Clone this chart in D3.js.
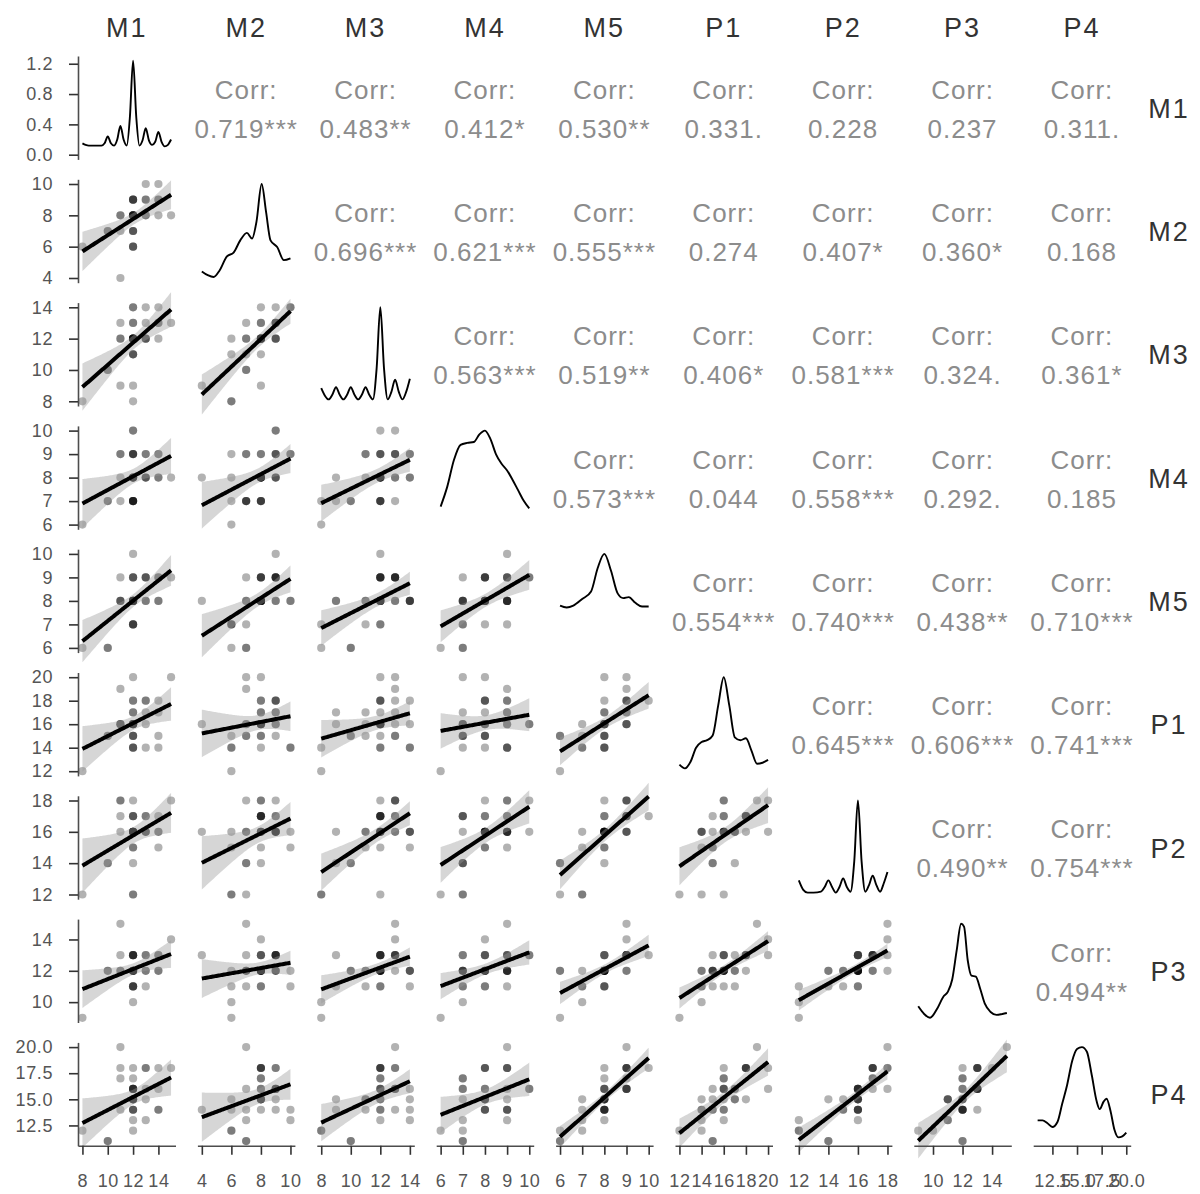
<!DOCTYPE html>
<html>
<head>
<meta charset="utf-8">
<script src="https://cdn.jsdelivr.net/npm/d3@7"></script>
<style>
  body { margin: 0; background: #fff; }
  svg { display: block; font-family: "Liberation Sans", Arial, sans-serif; }
</style>
</head>
<body>
<div id="chart"></div>
<script>
// variables of the pairs plot
const vars = ["M1", "M2", "M3", "M4", "M5", "P1", "P2", "P3", "P4"];

const M1 = [8, 10, 10, 11, 11, 11, 11, 12, 12, 12, 12, 12, 12, 12, 12, 12, 12, 12, 12, 12, 12, 12, 12, 12, 13, 13, 13, 13, 13, 14, 14, 14, 14, 15];
const M2 = [6, 7, 7, 7, 8, 8, 4, 9, 9, 8, 9, 9, 8, 8, 8, 8, 7, 8, 8, 7, 6, 6, 7, 6, 10, 9, 9, 8, 8, 10, 9, 9, 8, 8];
const M3 = [8, 10, 10, 13, 12, 12, 9, 12, 13, 12, 12, 14, 13, 14, 12, 11, 12, 12, 9, 11, 11, 12, 12, 8, 14, 13, 12, 12, 12, 14, 13, 13, 12, 13];
const M4 = [6, 7, 7, 9, 9, 7, 8, 9, 10, 7, 10, 8, 7, 8, 8, 9, 7, 8, 7, 9, 8, 9, 7, 7, 9, 9, 8, 8, 8, 9, 9, 8, 8, 8];
const M5 = [6, 6, 6, 9, 8, 8, 8, 10, 9, 9, 9, 8, 8, 8, 8, 8, 8, 8, 8, 8, 7, 7, 7, 7, 8, 9, 9, 8, 9, 8, 9, 8, 9, 9];
const P1 = [12, 15, 15, 19, 16, 16, 16, 18, 16, 16, 16, 18, 15, 16, 14, 17, 20, 15, 17, 16, 15, 14, 16, 14, 14, 18, 17, 16, 18, 14, 17, 15, 18, 20];
const P2 = [12, 14, 14, 18, 18, 17, 16, 17, 18, 17, 16, 16, 17, 16, 16, 16, 16, 15, 14, 16, 15, 16, 12, 12, 16, 17, 16, 16, 17, 15, 16, 16, 17, 18];
const P3 = [9, 12, 12, 15, 12, 12, 13, 13, 13, 12, 13, 12, 13, 12, 11, 12, 13, 12, 11, 12, 11, 12, 11, 10, 11, 13, 12, 12, 13, 12, 13, 12, 13, 14];
const P4 = [12, 11, 11, 20, 18, 17, 14, 18, 16, 17, 16, 15, 16, 16, 15, 15, 16, 14, 15, 14, 15, 14, 13, 12, 13, 18, 16, 15, 18, 14, 16, 14, 18, 18];

// tick labels of every variable
const ticksM1 = [8, 10, 12, 14];
const ticksM2 = [4, 6, 8, 10];
const ticksM3 = [8, 10, 12, 14];
const ticksM4 = [6, 7, 8, 9, 10];
const ticksM5 = [6, 7, 8, 9, 10];
const ticksP1 = [12, 14, 16, 18, 20];
const ticksP2 = [12, 14, 16, 18];
const ticksP3 = [10, 12, 14];
const ticksP4 = [12.5, 15, 17.5, 20];
const densityTicks = [0, 0.4, 0.8, 1.2];

// diagonal density curves [value, density]
// (M1 in its axis units, the others relative to their own peak)
const densM1 = [[8,0.15],[8.25,0.13],[8.5,0.12],[9,0.12],[9.5,0.12],[9.75,0.15],[10,0.24],[10.25,0.15],[10.5,0.12],[10.75,0.2],[11,0.38],[11.25,0.2],[11.5,0.12],[11.75,0.5],[12,1.24],[12.25,0.5],[12.5,0.12],[12.75,0.19],[13,0.35],[13.25,0.19],[13.5,0.13],[13.75,0.17],[14,0.3],[14.25,0.17],[14.5,0.11],[14.75,0.13],[15,0.2]];
const densM2 = [[4,0.07],[4.4,0.03],[4.8,0.01],[5.2,0.08],[5.7,0.23],[6.15,0.27],[6.6,0.4],[7.05,0.48],[7.4,0.42],[7.7,0.6],[8.05,1.0],[8.35,0.7],[8.65,0.4],[9.1,0.33],[9.55,0.19],[10,0.21]];
const densM3 = [[8,0.14],[8.25,0.06],[8.5,0.02],[8.75,0.07],[9,0.15],[9.25,0.07],[9.5,0.02],[9.75,0.07],[10,0.15],[10.25,0.07],[10.5,0.02],[10.75,0.07],[11,0.15],[11.25,0.07],[11.5,0.02],[11.75,0.35],[12,1.0],[12.25,0.35],[12.5,0.02],[12.75,0.1],[13,0.23],[13.25,0.1],[13.5,0.02],[13.75,0.1],[14,0.24]];
const densM4 = [[6,0.19],[6.3,0.4],[6.6,0.68],[6.9,0.84],[7.2,0.86],[7.5,0.87],[7.75,0.95],[8,0.99],[8.25,0.9],[8.5,0.74],[8.75,0.64],[9,0.57],[9.25,0.47],[9.5,0.36],[9.75,0.25],[10,0.17]];
const densM5 = [[6,0.45],[6.3,0.43],[6.6,0.45],[7,0.52],[7.4,0.6],[7.7,0.85],[8,1.0],[8.3,0.82],[8.6,0.58],[8.85,0.53],[9.1,0.54],[9.4,0.48],[9.7,0.44],[10,0.44]];
const densP1 = [[12,0.07],[12.5,0.03],[13,0.1],[13.5,0.25],[14,0.31],[14.5,0.33],[15,0.38],[15.5,0.7],[16,1.0],[16.5,0.7],[17,0.36],[17.5,0.33],[18,0.35],[18.5,0.22],[19,0.08],[19.5,0.09],[20,0.12]];
const densP2 = [[12,0.15],[12.3,0.05],[12.6,0.02],[13,0.02],[13.5,0.03],[13.75,0.08],[14,0.15],[14.25,0.08],[14.5,0.02],[14.75,0.08],[15,0.17],[15.25,0.08],[15.5,0.03],[15.75,0.35],[16,1.0],[16.25,0.35],[16.5,0.03],[16.75,0.1],[17,0.2],[17.25,0.1],[17.5,0.03],[17.75,0.12],[18,0.24]];
const densP3 = [[9,0.12],[9.4,0.04],[9.8,0.0],[10.3,0.1],[10.7,0.22],[11,0.27],[11.3,0.4],[11.6,0.7],[11.9,0.98],[12.1,0.95],[12.35,0.6],[12.6,0.44],[12.9,0.43],[13.2,0.3],[13.5,0.15],[13.9,0.06],[14.3,0.03],[14.7,0.04],[15,0.05]];
const densP4 = [[11,0.22],[11.5,0.22],[12,0.19],[12.5,0.15],[13,0.2],[13.5,0.4],[14,0.6],[14.5,0.85],[15,0.98],[15.5,1.0],[16,0.95],[16.5,0.7],[17,0.42],[17.3,0.34],[17.7,0.42],[18,0.45],[18.4,0.32],[18.8,0.12],[19.2,0.04],[19.6,0.05],[20,0.09]];

// upper triangle: correlation coefficients and significance marks, row by row
const corrR = [
  [0.719, 0.483, 0.412, 0.530, 0.331, 0.228, 0.237, 0.311],
  [0.696, 0.621, 0.555, 0.274, 0.407, 0.360, 0.168],
  [0.563, 0.519, 0.406, 0.581, 0.324, 0.361],
  [0.573, 0.044, 0.558, 0.292, 0.185],
  [0.554, 0.740, 0.438, 0.710],
  [0.645, 0.606, 0.741],
  [0.490, 0.754],
  [0.494]
];
const corrSig = [
  ["***", "**", "*", "**", ".", "", "", "."],
  ["***", "***", "***", "", "*", "*", ""],
  ["***", "**", "*", "***", ".", "*"],
  ["***", "", "***", ".", ""],
  ["***", "***", "**", "***"],
  ["***", "***", "***"],
  ["**", "***"],
  ["**"]
];

const columns = { M1, M2, M3, M4, M5, P1, P2, P3, P4 };
const ticks = { M1: ticksM1, M2: ticksM2, M3: ticksM3, M4: ticksM4, M5: ticksM5, P1: ticksP1, P2: ticksP2, P3: ticksP3, P4: ticksP4 };
const densities = { M1: densM1, M2: densM2, M3: densM3, M4: densM4, M5: densM5, P1: densP1, P2: densP2, P3: densP3, P4: densP4 };
const n = M1.length;

// layout
const width = 1200;
const height = 1194;
const gridLeft = 78;
const gridTop = 56;
const panelW = 97.5;
const panelH = 103.4;
const stepX = 119.4;
const stepY = 123.3;
const tCrit = 2.037; // qt(0.975, n - 2)

const svg = d3.select("#chart")
  .append("svg")
  .attr("width", width)
  .attr("height", height);

// scales with ggplot's 5% expansion
function expand(ext) {
  const pad = (ext[1] - ext[0]) * 0.05;
  return [ext[0] - pad, ext[1] + pad];
}
const xScale = {};
const yScale = {};
vars.forEach(v => {
  const dom = expand(d3.extent(columns[v]));
  xScale[v] = d3.scaleLinear().domain(dom).range([0, panelW]);
  yScale[v] = d3.scaleLinear().domain(dom).range([panelH, 0]);
});

const fmt = v => v === "P4" ? d3.format(".1f") : d3.format("d");

function styleAxis(ax) {
  ax.select(".domain").attr("stroke", "#4d4d4d").attr("stroke-width", 1.6);
  ax.selectAll(".tick line").attr("stroke", "#333").attr("stroke-width", 1.6);
  ax.selectAll(".tick text")
    .attr("font-size", 18)
    .attr("font-family", "Liberation Sans, Arial, sans-serif")
    .attr("letter-spacing", 0.6)
    .attr("fill", "#555");
}

// panels
vars.forEach((rowVar, i) => {
  vars.forEach((colVar, j) => {
    const g = svg.append("g")
      .attr("transform", `translate(${gridLeft + j * stepX},${gridTop + i * stepY})`);

    if (i === j) {
      // density on the diagonal
      const dens = densities[colVar];
      const maxD = d3.max(dens, d => d[1]);
      const yD = d3.scaleLinear().domain([-0.05 * maxD, 1.05 * maxD]).range([panelH, 0]);
      g.append("path")
        .datum(dens)
        .attr("fill", "none")
        .attr("stroke", "#000")
        .attr("stroke-width", 1.9)
        .attr("d", d3.line()
          .x(d => xScale[colVar](d[0]))
          .y(d => yD(d[1]))
          .curve(d3.curveMonotoneX));
      if (i === 0) {
        const ax = g.append("g")
          .call(d3.axisLeft(yD).tickValues(densityTicks).tickFormat(d3.format(".1f"))
            .tickSize(9).tickSizeOuter(0).tickPadding(16));
        styleAxis(ax);
      }
    } else if (i < j) {
      // correlation text
      const r = corrR[i][j - i - 1];
      const s = corrSig[i][j - i - 1];
      const cx = panelW / 2;
      const cy = panelH / 2;
      g.append("text")
        .attr("x", cx).attr("y", cy - 9)
        .attr("text-anchor", "middle")
        .attr("font-size", 26)
        .attr("letter-spacing", 1)
        .attr("fill", "#8c8c8c")
        .text("Corr:");
      g.append("text")
        .attr("x", cx).attr("y", cy + 30)
        .attr("text-anchor", "middle")
        .attr("font-size", 26)
        .attr("letter-spacing", 1)
        .attr("fill", "#8c8c8c")
        .text(d3.format(".3f")(r) + s);
    } else {
      // scatter + linear fit with 95% band
      const xs = columns[colVar];
      const ys = columns[rowVar];
      const sx = xScale[colVar];
      const sy = yScale[rowVar];

      g.selectAll("circle")
        .data(d3.range(n))
        .enter().append("circle")
        .attr("cx", k => sx(xs[k]))
        .attr("cy", k => sy(ys[k]))
        .attr("r", 4.1)
        .attr("fill", "#000")
        .attr("fill-opacity", 0.3);

      const mx = d3.mean(xs);
      const my = d3.mean(ys);
      const sxx = d3.sum(xs, x => (x - mx) * (x - mx));
      const sxy = d3.sum(xs.map((x, k) => (x - mx) * (ys[k] - my)));
      const b = sxy / sxx;
      const a = my - b * mx;
      const s2 = d3.sum(xs.map((x, k) => Math.pow(ys[k] - a - b * x, 2))) / (n - 2);
      const [x0, x1] = d3.extent(xs);
      const grid = d3.range(80).map(k => x0 + (x1 - x0) * k / 79);
      const band = grid.map(x => {
        const fit = a + b * x;
        const se = Math.sqrt(s2 * (1 / n + (x - mx) * (x - mx) / sxx));
        return { x, fit, lo: fit - tCrit * se, hi: fit + tCrit * se };
      });

      g.append("path")
        .datum(band)
        .attr("fill", "#999")
        .attr("fill-opacity", 0.4)
        .attr("d", d3.area().x(d => sx(d.x)).y0(d => sy(d.lo)).y1(d => sy(d.hi)));
      g.append("path")
        .datum(band)
        .attr("fill", "none")
        .attr("stroke", "#000")
        .attr("stroke-width", 4)
        .attr("d", d3.line().x(d => sx(d.x)).y(d => sy(d.fit)));

      if (j === 0) {
        const ax = g.append("g")
          .call(d3.axisLeft(sy).tickValues(ticks[rowVar]).tickFormat(fmt(rowVar))
            .tickSize(9).tickSizeOuter(0).tickPadding(16));
        styleAxis(ax);
      }
    }

    if (i === vars.length - 1) {
      const ax = g.append("g")
        .attr("transform", `translate(0,${panelH})`)
        .call(d3.axisBottom(xScale[colVar]).tickValues(ticks[colVar]).tickFormat(fmt(colVar))
          .tickSize(9).tickSizeOuter(0).tickPadding(19));
      styleAxis(ax);
    }
  });
});

// strip labels on top and right
svg.append("g")
  .selectAll("text")
  .data(vars)
  .enter().append("text")
  .attr("x", (d, j) => gridLeft + j * stepX + panelW / 2)
  .attr("y", 37)
  .attr("text-anchor", "middle")
  .attr("font-size", 27)
  .attr("letter-spacing", 2)
  .attr("fill", "#333")
  .text(d => d);

svg.append("g")
  .selectAll("text")
  .data(vars)
  .enter().append("text")
  .attr("x", 1169)
  .attr("y", (d, i) => gridTop + i * stepY + panelH / 2 + 10)
  .attr("text-anchor", "middle")
  .attr("font-size", 27)
  .attr("letter-spacing", 2)
  .attr("fill", "#333")
  .text(d => d);
</script>
</body>
</html>
